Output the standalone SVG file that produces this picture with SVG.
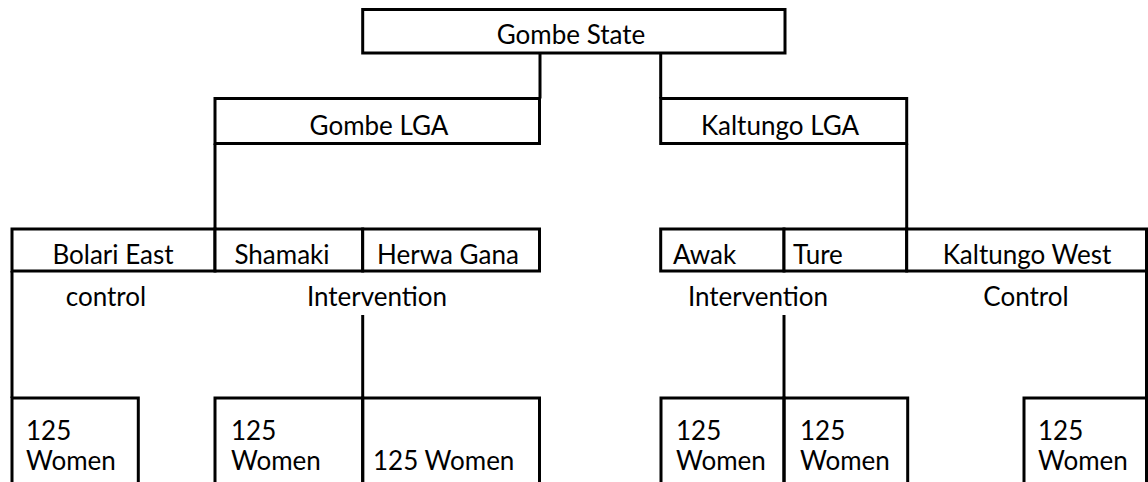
<svg xmlns="http://www.w3.org/2000/svg" width="1148" height="482" viewBox="0 0 1148 482">
<style>
.b{fill:#fff;stroke:#000;stroke-width:3}
.o{fill:none;stroke:#000;stroke-width:3}
.c{stroke:#000;stroke-width:3;fill:none}
text{font-family:Lato,"Open Sans","Liberation Sans",sans-serif;font-size:26px;fill:#000}
.m{text-anchor:middle}
</style>
<rect width="1148" height="482" fill="#fff"/>
<g id="connectors">
<line class="c" x1="540" y1="53" x2="540" y2="98.5"/>
<line class="c" x1="660.7" y1="53" x2="660.7" y2="98.5"/>
<line class="c" x1="215" y1="143.5" x2="215" y2="229"/>
<line class="c" x1="906.7" y1="143.5" x2="906.7" y2="229"/>
<line class="c" x1="12" y1="271" x2="12" y2="398"/>
<line class="c" x1="1146.5" y1="271" x2="1146.5" y2="398"/>
<line class="c" x1="362.7" y1="315" x2="362.7" y2="398"/>
<line class="c" x1="784" y1="315" x2="784" y2="398"/>
</g>
<g id="gombe-state"><rect class="b" x="362.7" y="9.5" width="422.3" height="43.5"/><text class="m" x="571" y="44">Gombe State</text></g>
<g id="gombe-lga"><rect class="b" x="215" y="98.5" width="324.5" height="45"/><text class="m" x="379" y="135">Gombe LGA</text></g>
<g id="kaltungo-lga"><rect class="b" x="660.7" y="98.5" width="246" height="45"/><text class="m" x="780" y="135">Kaltungo LGA</text></g>
<g id="bolari-east"><rect class="b" x="12" y="229" width="203" height="42"/><text class="m" x="113" y="264">Bolari East</text></g>
<g id="shamaki"><rect class="b" x="215" y="229" width="147.7" height="42"/><text class="m" x="282" y="264">Shamaki</text></g>
<g id="herwa-gana"><rect class="b" x="362.7" y="229" width="176.8" height="42"/><text class="m" x="448" y="264">Herwa Gana</text></g>
<g id="awak"><rect class="b" x="660.7" y="229" width="123.3" height="42"/><text x="673" y="264">Awak</text></g>
<g id="ture"><rect class="b" x="784" y="229" width="122.7" height="42"/><text x="793" y="264">Ture</text></g>
<g id="kaltungo-west"><rect class="b" x="906.7" y="229" width="239.8" height="42"/><text class="m" x="1027" y="264">Kaltungo West</text></g>
<g id="control-left"><text class="m" x="106" y="306">control</text></g>
<g id="intervention-left"><text class="m" x="377" y="306">Intervention</text></g>
<g id="intervention-right"><text class="m" x="758" y="306">Intervention</text></g>
<g id="control-right"><text class="m" x="1026" y="306">Control</text></g>
<g id="women-bolari"><path class="o" d="M12,490V398H138.3V490"/><text x="26" y="440">125</text><text x="26" y="470">Women</text></g>
<g id="women-shamaki"><path class="o" d="M215,490V398H362.7V490"/><text x="231" y="440">125</text><text x="231" y="470">Women</text></g>
<g id="women-herwa"><path class="o" d="M362.7,490V398H539.5V490"/><text x="373" y="470">125 Women</text></g>
<g id="women-awak"><path class="o" d="M661,490V398H784V490"/><text x="676" y="440">125</text><text x="676" y="470">Women</text></g>
<g id="women-ture"><path class="o" d="M784,490V398H907.7V490"/><text x="800" y="440">125</text><text x="800" y="470">Women</text></g>
<g id="women-kwest"><path class="o" d="M1024,490V398H1146.5V490"/><text x="1038" y="440">125</text><text x="1038" y="470">Women</text></g>
</svg>
